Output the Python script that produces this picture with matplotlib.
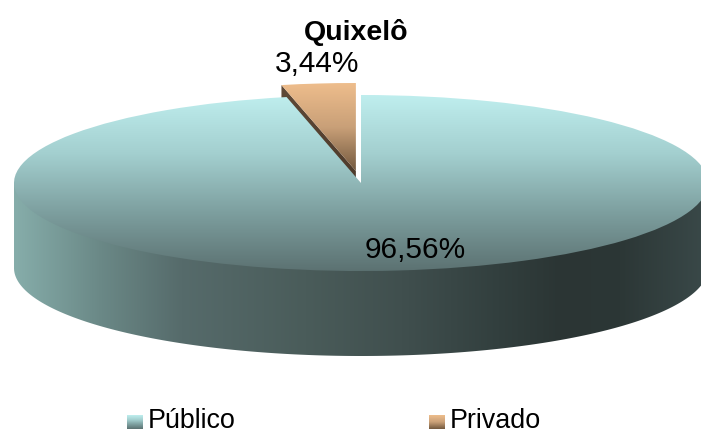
import numpy as np
import matplotlib
matplotlib.use('Agg')
import matplotlib.pyplot as plt
from matplotlib.colors import LinearSegmentedColormap
from matplotlib.patches import Polygon

plt.rcParams['font.family'] = ['Liberation Sans', 'DejaVu Sans']

# Data
title = "Quixelô"
categories = ["Público", "Privado"]
shares = [96.56, 3.44]
share_labels = ["96,56%", "3,44%"]

W, H = 701, 434
# ellipse in pixels
cx, cy, a, b = 361, 183, 347, 88
depth = 85 / b

top_cmap = LinearSegmentedColormap.from_list('top', ['#bfeeee', '#a3cfcf', '#7d9f9f', '#5c7272'])
side_cmap = LinearSegmentedColormap.from_list('side', [
    (0.0, '#86adaa'), (0.125, '#6a8886'), (0.24, '#566b6b'), (0.42, '#4a5c5a'),
    (0.56, '#404f4e'), (0.70, '#323f3e'), (0.79, '#2b3534'), (0.875, '#2c3736'), (1.0, '#3a4949')])
slice_cmap = LinearSegmentedColormap.from_list('slice', ['#eebd8c', '#c9a078', '#73593f'])
wall_cmap = LinearSegmentedColormap.from_list('wall', ['#5f4a38', '#3f2e20'])

fig = plt.figure(figsize=(W / 100, H / 100), dpi=100)
ax = fig.add_axes([0, 0, 1, 1])

# the pie is flattened by the axes limits: 1 unit = a px across, b px down
wedges, _ = ax.pie(shares, startangle=90, counterclock=False, explode=[0, 0.137], radius=1)
ax.set_aspect('auto')
ax.axis('off')
main, small = wedges


def gradient(cmap, extent, clip, horizontal=False, zorder=1):
    g = np.linspace(0, 1, 256)
    g = g.reshape(1, -1) if horizontal else g.reshape(-1, 1)
    im = ax.imshow(g, cmap=cmap, extent=extent, aspect='auto', origin='upper',
                   interpolation='bilinear', zorder=zorder)
    if clip.axes is None:
        ax.add_patch(clip)
    clip.set_visible(False)
    im.set_clip_path(clip)
    return im


# front wall of the disc
t = np.linspace(0, np.pi, 300)
wall_pts = np.r_[np.c_[np.cos(t), 0 * t],
                 np.c_[np.cos(t[::-1]), -np.sin(t[::-1]) - depth]]
gradient(side_cmap, (-1, 1, -1 - depth, 0), Polygon(wall_pts, transform=ax.transData),
         horizontal=True, zorder=1)

# cut face of the pulled out slice, seen through the notch
sx, sy = small.center
ang = np.deg2rad(shares[1] / sum(shares) * 360)
left_x, left_y = sx - np.sin(ang), sy + np.cos(ang)
cut_pts = [(left_x, left_y), (sx, sy), (sx, sy - depth), (left_x, left_y - depth)]
gradient(wall_cmap, (left_x, sx, sy - depth, left_y), Polygon(cut_pts, transform=ax.transData), zorder=2)

# top faces
gradient(slice_cmap, (left_x, sx, sy, sy + 1), small, zorder=3)
gradient(top_cmap, (-1, 1, -1, 1), main, zorder=4)

ax.set_xlim(-cx / a, (W - cx) / a)
ax.set_ylim((cy - H) / b, cy / b)


def put(x, y, s, **kw):
    fig.text(x / W, 1 - y / H, s, color='black', zorder=10, **kw)


put(356, 40, title, fontsize=20.5, fontweight='bold', ha='center', va='baseline')
put(317, 72, share_labels[1], fontsize=21.5, ha='center', va='baseline')
put(415.5, 258, share_labels[0], fontsize=21.5, ha='center', va='baseline')

# legend
for x0, name, cmap in zip([127, 429], categories, [top_cmap, slice_cmap]):
    lax = fig.add_axes([x0 / W, 1 - 429 / H, 16 / W, 14 / H])
    lax.imshow(np.linspace(0, 1, 64).reshape(-1, 1), cmap=cmap, aspect='auto')
    lax.axis('off')
    put(x0 + 21, 428, name, fontsize=19.4, ha='left', va='baseline')

fig.savefig('out.png', dpi=100)
